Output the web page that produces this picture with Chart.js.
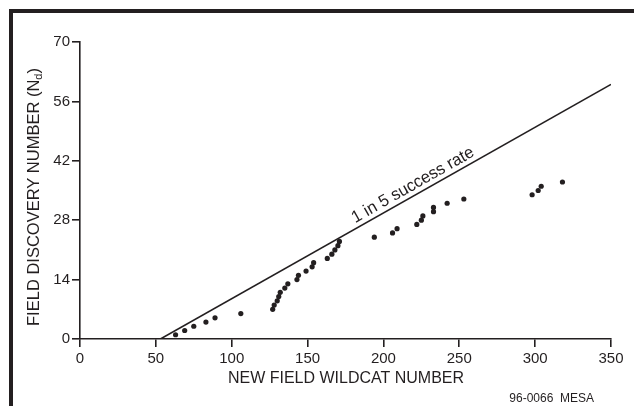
<!DOCTYPE html>
<html>
<head>
<meta charset="utf-8">
<script src="https://cdn.jsdelivr.net/npm/chart.js@4.4.1/dist/chart.umd.min.js"></script>
<style>
  html, body { margin: 0; padding: 0; background: #fff; overflow: hidden; }
  #wrap { position: relative; width: 634px; height: 406px; }
  #frame {
    position: absolute; left: 9px; top: 9px; width: 700px; height: 500px;
    border: 4px solid #231f20; pointer-events: none;
  }
</style>
</head>
<body>
<div id="wrap">
  <canvas id="chart" width="634" height="406"></canvas>
  <div id="frame"></div>
</div>
<script>
// new field wildcat number vs field discovery number
const wildcatNumber = [63, 69, 75, 83, 89, 106, 127, 128, 130, 131, 132, 135, 137, 143, 144, 149, 153, 154, 163, 166, 168, 170, 171, 194, 206, 209, 222, 225, 226, 233, 233, 242, 253, 298, 302, 304, 318]
const discoveryNumber = [1, 2, 3, 4, 5, 6, 7, 8, 9, 10, 11, 12, 13, 14, 15, 16, 17, 18, 19, 20, 21, 22, 23, 24, 25, 26, 27, 28, 29, 30, 31, 32, 33, 34, 35, 36, 37]

// "1 in 5 success rate" reference line
const rateLineX = [53, 350]
const rateLineY = [0, 60]

const xTicks = [0, 50, 100, 150, 200, 250, 300, 350]
const yTicks = [0, 14, 28, 42, 56, 70]

const ink = '#231f20'
const fontFamily = '"Liberation Sans", Arial, Helvetica, sans-serif'

const labelsPlugin = {
  id: 'labels',
  afterDraw(chart) {
    const ctx = chart.ctx
    const x = chart.scales.x
    const y = chart.scales.y
    ctx.save()
    ctx.fillStyle = ink

    // x axis title
    ctx.font = '16px ' + fontFamily
    ctx.textAlign = 'center'
    ctx.textBaseline = 'alphabetic'
    ctx.fillText('NEW FIELD WILDCAT NUMBER', 346, 383)

    // y axis title with subscript
    ctx.save()
    ctx.translate(39, 197)
    ctx.rotate(-Math.PI / 2)
    const main = 'FIELD DISCOVERY NUMBER (N'
    ctx.font = '16.5px ' + fontFamily
    const wMain = ctx.measureText(main).width
    ctx.font = '11px ' + fontFamily
    const wSub = ctx.measureText('d').width
    ctx.font = '16.5px ' + fontFamily
    const wEnd = ctx.measureText(')').width
    let pos = -(wMain + wSub + wEnd) / 2
    ctx.textAlign = 'left'
    ctx.fillText(main, pos, 0)
    pos += wMain
    ctx.font = '11px ' + fontFamily
    ctx.fillText('d', pos, 3)
    pos += wSub
    ctx.font = '16.5px ' + fontFamily
    ctx.fillText(')', pos, 0)
    ctx.restore()

    // label along the rate line
    const x0 = x.getPixelForValue(rateLineX[0]), y0 = y.getPixelForValue(rateLineY[0])
    const x1 = x.getPixelForValue(rateLineX[1]), y1 = y.getPixelForValue(rateLineY[1])
    const ang = Math.atan2(y1 - y0, x1 - x0)
    const startVal = 183
    const sx = x.getPixelForValue(startVal)
    const sy = y0 + (sx - x0) * Math.tan(ang)
    ctx.save()
    ctx.translate(sx, sy)
    ctx.rotate(ang)
    ctx.font = '17px ' + fontFamily
    ctx.textAlign = 'left'
    ctx.fillText('1 in 5 success rate', 0, -5, 138)
    ctx.restore()

    // figure id
    ctx.font = '12px ' + fontFamily
    ctx.textAlign = 'right'
    ctx.fillText('96-0066  MESA', 594, 402)
    ctx.restore()
  }
}

new Chart(document.getElementById('chart'), {
  type: 'scatter',
  data: {
    datasets: [
      {
        label: '1 in 5 success rate',
        data: rateLineX.map((v, i) => ({ x: v, y: rateLineY[i] })),
        showLine: true,
        borderColor: ink,
        borderWidth: 1.6,
        pointRadius: 0,
        fill: false
      },
      {
        label: 'Discoveries',
        data: wildcatNumber.map((v, i) => ({ x: v, y: discoveryNumber[i] })),
        backgroundColor: ink,
        borderColor: ink,
        borderWidth: 0,
        pointRadius: 2.6
      }
    ]
  },
  options: {
    responsive: false,
    animation: false,
    events: [],
    layout: { padding: { top: 42, right: 23, bottom: 0, left: 0 } },
    plugins: {
      legend: { display: false },
      tooltip: { enabled: false }
    },
    scales: {
      x: {
        type: 'linear',
        min: 0,
        max: 350,
        afterFit: s => { s.height = 67 },
        afterBuildTicks: s => { s.ticks = xTicks.map(v => ({ value: v })) },
        border: { display: true, color: ink, width: 1.6 },
        grid: { drawOnChartArea: false, drawTicks: true, tickLength: 8, color: ink, lineWidth: 1.6 },
        ticks: { color: ink, padding: 3, font: { family: fontFamily, size: 15 }, maxRotation: 0 }
      },
      y: {
        type: 'linear',
        min: 0,
        max: 70,
        afterFit: s => { s.width = 80 },
        afterBuildTicks: s => { s.ticks = yTicks.map(v => ({ value: v })) },
        border: { display: true, color: ink, width: 1.6 },
        grid: { drawOnChartArea: false, drawTicks: true, tickLength: 8, color: ink, lineWidth: 1.6 },
        ticks: { color: ink, padding: 2, font: { family: fontFamily, size: 15 } }
      }
    }
  },
  plugins: [labelsPlugin]
})
</script>
</body>
</html>
